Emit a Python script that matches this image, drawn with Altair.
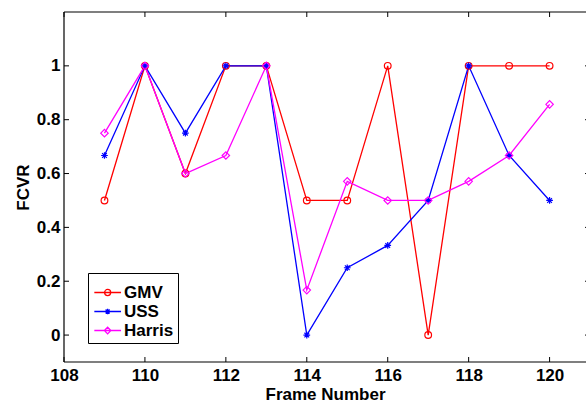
import altair as alt
import pandas as pd

frames = [109, 110, 111, 112, 113, 114, 115, 116, 117, 118, 119, 120]
gmv = [0.5, 1.0, 0.6, 1.0, 1.0, 0.5, 0.5, 1.0, 0.0, 1.0, 1.0, 1.0]
uss = [0.667, 1.0, 0.75, 1.0, 1.0, 0.0, 0.25, 0.333, 0.5, 1.0, 0.667, 0.5]
harris = [0.75, 1.0, 0.6, 0.667, 1.0, 0.167, 0.571, 0.5, 0.5, 0.571, 0.667, 0.857]

series_names = ["GMV", "USS", "Harris"]
series_colors = ["#ff0000", "#0000ff", "#ff00ff"]
x_ticks = [108, 110, 112, 114, 116, 118, 120]
y_ticks = [0, 0.2, 0.4, 0.6, 0.8, 1.0]

X_DOMAIN = [108, 120.9]   # the right edge of the original axes (121) falls just outside the picture
X_FULL = 121
Y_DOMAIN = [-0.1, 1.2]
W, H = 522, 350
FONT = "Liberation Sans"

rows = []
for name, vals in zip(series_names, [gmv, uss, harris]):
    for f, v in zip(frames, vals):
        rows.append({"frame": f, "value": v, "series": name})
df = pd.DataFrame(rows)

xs = alt.Scale(domain=X_DOMAIN, nice=False, zero=False)
ys = alt.Scale(domain=Y_DOMAIN, nice=False, zero=False)

x_enc = alt.X("frame:Q", scale=xs, axis=alt.Axis(
    values=x_ticks, title="Frame Number", grid=False, ticks=False, domain=False,
    labelFont=FONT, labelFontSize=17, labelFontWeight="bold", labelColor="black",
    labelPadding=5, titleFont=FONT, titleFontSize=17, titleFontWeight="bold",
    titleColor="black", titlePadding=3, labelFlush=False))
y_enc = alt.Y("value:Q", scale=ys, axis=alt.Axis(
    values=y_ticks, title="FCVR", grid=False, ticks=False, domain=False, format="~g",
    labelFont=FONT, labelFontSize=17, labelFontWeight="bold", labelColor="black",
    labelPadding=4, titleFont=FONT, titleFontSize=17, titleFontWeight="bold",
    titleColor="black", titlePadding=4, labelFlush=False))

marker_shapes = {
    "GMV": "circle",
    "USS": "M-1,0L1,0M0,-1L0,1M-0.7,-0.7L0.7,0.7M-0.7,0.7L0.7,-0.7",
    "Harris": "diamond",
}
marker_sizes = {"GMV": 45, "USS": 45, "Harris": 55}

layers = []

# axes frame (left, bottom, top)
frame_h = pd.DataFrame({"y": Y_DOMAIN, "x0": [X_DOMAIN[0]] * 2, "x1": [X_DOMAIN[1]] * 2})
frame_v = pd.DataFrame({"x": [X_DOMAIN[0]], "y0": [Y_DOMAIN[0]], "y1": [Y_DOMAIN[1]]})
layers.append(alt.Chart(frame_h).mark_rule(color="black", strokeWidth=1.2).encode(
    y=alt.Y("y:Q", scale=ys), x=alt.X("x0:Q", scale=xs), x2="x1:Q"))
layers.append(alt.Chart(frame_v).mark_rule(color="black", strokeWidth=1.2).encode(
    x=alt.X("x:Q", scale=xs), y=alt.Y("y0:Q", scale=ys), y2="y1:Q"))

for name, color in zip(series_names, series_colors):
    sub = alt.Chart(df).transform_filter(alt.datum.series == name)
    layers.append(sub.mark_line(color=color, strokeWidth=1.3).encode(x=x_enc, y=y_enc))
for name, color in zip(series_names, series_colors):
    sub = alt.Chart(df).transform_filter(alt.datum.series == name)
    layers.append(sub.mark_point(shape=marker_shapes[name], color=color, filled=False,
                                 strokeWidth=1.2, size=marker_sizes[name], opacity=1)
                  .encode(x=x_enc, y=y_enc))

LINE = "M-0.86,0L1.95,0"
legend_shapes = [
    LINE + "M0.22,0A0.32,0.32 0 1,0 0.86,0A0.32,0.32 0 1,0 0.22,0",
    LINE + "M0.54,-0.3L0.54,0.3M0.24,0L0.84,0M0.33,-0.21L0.75,0.21M0.33,0.21L0.75,-0.21",
    LINE + "M0.2,0L0.54,-0.36L0.88,0L0.54,0.36Z",
]
legend_layer = alt.Chart(df).mark_point(opacity=0, filled=False).encode(
    x=x_enc, y=y_enc,
    color=alt.Color("series:N", scale=alt.Scale(domain=series_names, range=series_colors),
                    legend=alt.Legend(title=" ", titleFontSize=5, titlePadding=0,
                                      orient="none", legendX=24, legendY=261,
                                      symbolOpacity=1, symbolSize=361, symbolStrokeWidth=1.3,
                                      labelFont=FONT, labelFontSize=17, labelFontWeight="bold",
                                      labelColor="black", labelOffset=11, padding=4,
                                      strokeColor="black", fillColor="white", rowPadding=0,
                                      symbolFillColor="transparent")),
    shape=alt.Shape("series:N", scale=alt.Scale(domain=series_names, range=legend_shapes)),
)
layers.append(legend_layer)

# inward tick marks on all four sides
dx = 5 * (X_DOMAIN[1] - X_DOMAIN[0]) / W
dy = 5 * (Y_DOMAIN[1] - Y_DOMAIN[0]) / H
xt = pd.DataFrame({"t": x_ticks})
yt = pd.DataFrame({"t": y_ticks})
xt["b0"], xt["b1"] = Y_DOMAIN[0], Y_DOMAIN[0] + dy
xt["t0"], xt["t1"] = Y_DOMAIN[1] - dy, Y_DOMAIN[1]
yt["l0"], yt["l1"] = X_DOMAIN[0], X_DOMAIN[0] + dx
yt["r0"], yt["r1"] = X_FULL - dx, X_FULL
for a, b in [("b0", "b1"), ("t0", "t1")]:
    layers.append(alt.Chart(xt).mark_rule(color="black", strokeWidth=1).encode(
        x=alt.X("t:Q", scale=xs), y=alt.Y(f"{a}:Q", scale=ys), y2=f"{b}:Q"))
for a, b in [("l0", "l1"), ("r0", "r1")]:
    layers.append(alt.Chart(yt).mark_rule(color="black", strokeWidth=1, clip=True).encode(
        y=alt.Y("t:Q", scale=ys), x=alt.X(f"{a}:Q", scale=xs), x2=f"{b}:Q"))

chart = alt.layer(*layers).properties(
    width=W, height=H,
    autosize=alt.AutoSizeParams(type="none"),
    padding={"left": 64, "top": 12, "right": 0, "bottom": 43},
    background="white",
).configure_view(stroke=None)

chart.save("out.html", embed_options={"renderer": "svg", "actions": False})
